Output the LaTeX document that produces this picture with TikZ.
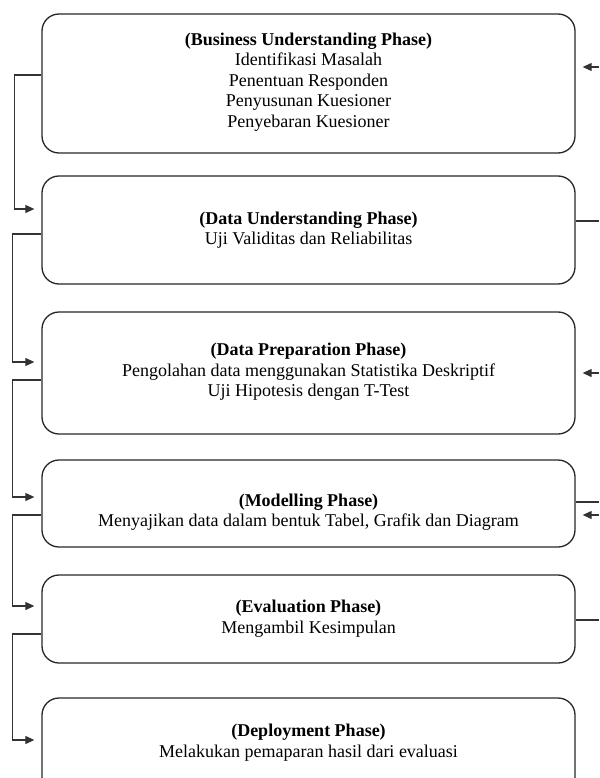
\documentclass[tikz,border=0pt]{standalone}
\usepackage{fontspec}
\setmainfont{Liberation Serif}
\usetikzlibrary{arrows.meta,positioning,calc}
\begin{document}
\begin{tikzpicture}[x=1pt,y=-1pt,
  phasebox/.style={draw=black!85,line width=1.3pt,rounded corners=17pt,minimum width=533pt,inner sep=0pt},
  phasetext/.style={align=center,font=\fontsize{18}{20.5}\selectfont,inner sep=0pt},
  conn/.style={draw=black!80,line width=1.1pt},
  arr/.style={conn,-{Triangle[length=9pt,width=8pt]}}]
\useasboundingbox (0,0) rectangle (599,778);
\clip (0,0) rectangle (599,778);
% boxes
\node[phasebox,minimum height=139pt] (b1) at (308.5,83.5) {};
\node[phasebox,minimum height=108pt] (b2) at (308.5,230) {};
\node[phasebox,minimum height=122pt] (b3) at (308.5,373) {};
\node[phasebox,minimum height=87pt]  (b4) at (308.5,503.5) {};
\node[phasebox,minimum height=88pt]  (b5) at (308.5,619) {};
\node[phasebox,minimum height=100pt] (b6) at (308.5,748) {};
% texts
\node[phasetext] (t1) at (308.5,82) {\textbf{(Business Understanding Phase)}\\Identifikasi Masalah\\Penentuan Responden\\Penyusunan Kuesioner\\Penyebaran Kuesioner};
\node[phasetext] (t2) at (308.5,230) {\textbf{(Data Understanding Phase)}\\Uji Validitas dan Reliabilitas};
\node[phasetext] (t3) at (308.5,372) {\textbf{(Data Preparation Phase)}\\Pengolahan data menggunakan Statistika Deskriptif\\Uji Hipotesis dengan T-Test};
\node[phasetext] (t4) at (308.5,512) {\textbf{(Modelling Phase)}\\Menyajikan data dalam bentuk Tabel, Grafik dan Diagram};
\node[phasetext] (t5) at (308.5,618.5) {\textbf{(Evaluation Phase)}\\Mengambil Kesimpulan};
\node[phasetext] (t6) at (308.5,742.5) {\textbf{(Deployment Phase)}\\Melakukan pemaparan hasil dari evaluasi};
% left connectors
\draw[arr] ([yshift=8.5pt]b1.west) -- ++(-27,0) |- ([xshift=-7pt,yshift=21pt]b2.west);
\draw[arr] ([yshift=-4pt]b2.west) -- ++(-29,0) |- ([xshift=-7pt,yshift=11pt]b3.west);
\draw[arr] ([yshift=-7pt]b3.west) -- ++(-29,0) |- ([xshift=-7pt,yshift=6.5pt]b4.west);
\draw[arr] ([yshift=-11.5pt]b4.west) -- ++(-29,0) |- ([xshift=-7pt,yshift=13pt]b5.west);
\draw[arr] ([yshift=-15pt]b5.west) -- ++(-29,0) |- ([xshift=-7pt,yshift=8pt]b6.west);
% right free ends
\coordinate (r1) at (599,67);
\coordinate (r2) at (599,221);
\coordinate (r3) at (599,373);
\coordinate (r4a) at (599,502);
\coordinate (r4b) at (599,515);
\coordinate (r5) at (599,620);
\draw[arr] (r1) -- ([xshift=7pt]b1.east |- r1);
\draw[conn] (b2.east |- r2) -- (r2);
\draw[arr] (r3) -- ([xshift=7pt]b3.east |- r3);
\draw[conn] (b4.east |- r4a) -- (r4a);
\draw[arr] (r4b) -- ([xshift=7pt]b4.east |- r4b);
\draw[conn] (b5.east |- r5) -- (r5);
\end{tikzpicture}
\end{document}
